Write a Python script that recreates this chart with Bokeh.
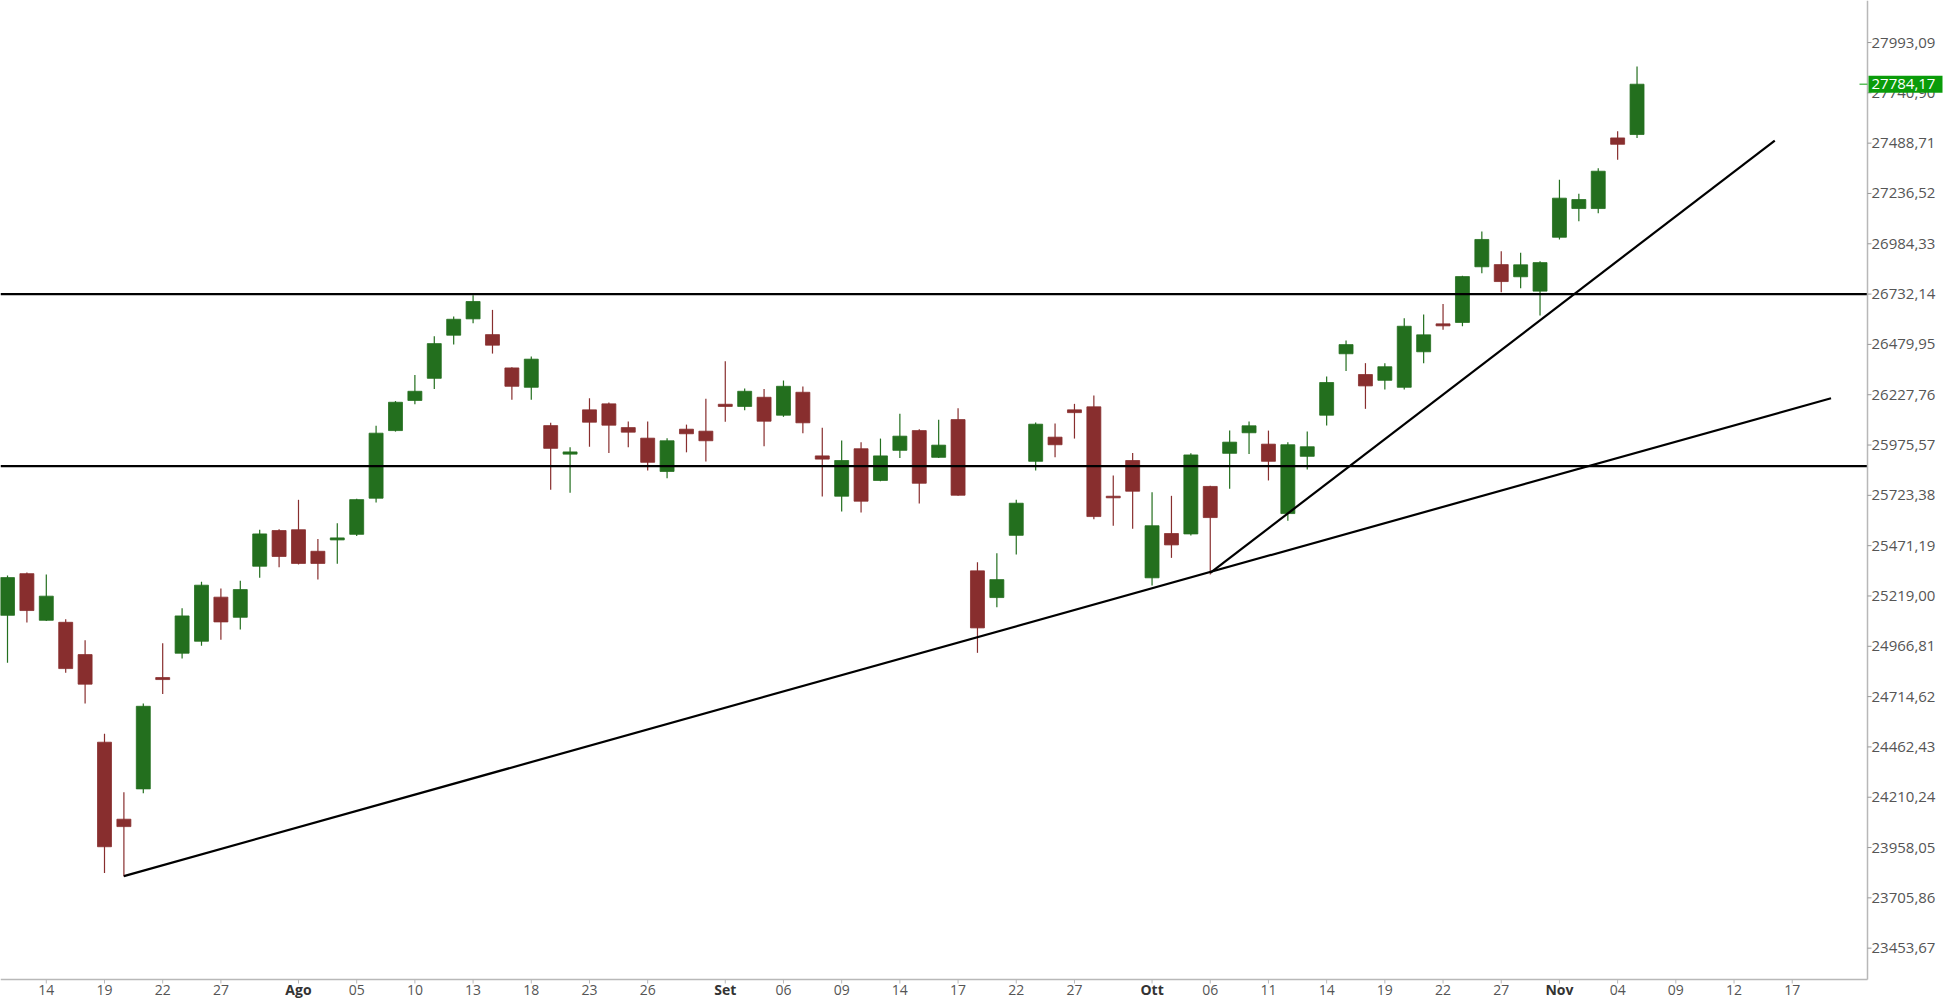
import pandas as pd
from bokeh.plotting import figure
from bokeh.models import ColumnDataSource, Range1d
from bokeh.core.properties import value
from bokeh.embed import file_html
from bokeh.resources import INLINE

# ---------------- data ----------------
first_day = "2021-07-12"
last_day = "2021-11-05"
calendar_end = "2021-11-30"

opens = [25122, 25331, 25097, 25087, 24925, 24486, 24100, 24252, 24810, 24932,
         24992, 25213, 25112, 25368, 25547, 25551, 25443, 25500, 25528, 25709,
         26048, 26199, 26310, 26526, 26608, 26529, 26362, 26265, 26073, 25930,
         26152, 26182, 26063, 26010, 25843, 26055, 26045, 26180, 26169, 26215,
         26125, 26240, 25921, 25719, 25957, 25798, 25949, 26048, 25914, 26103,
         25345, 25211, 25523, 25894, 26015, 26152, 26167, 25719, 25898, 25310,
         25532, 25530, 25768, 25934, 26037, 25980, 25632, 25919, 26125, 26433,
         26329, 26300, 26265, 26443, 26583, 26590, 26869, 26880, 26819, 26747,
         27017, 27161, 27161, 27515, 27532]
highs = [25321, 25337, 25326, 25102, 24997, 24528, 24235, 24680, 24982, 25158,
         25290, 25256, 25295, 25551, 25553, 25701, 25505, 25584, 25706, 26072,
         26196, 26327, 26521, 26620, 26726, 26653, 26366, 26419, 26087, 25965,
         26210, 26189, 26093, 26093, 26010, 26078, 26207, 26396, 26259, 26257,
         26299, 26269, 26062, 25998, 25990, 26008, 26132, 26055, 26102, 26160,
         25388, 25433, 25701, 26088, 26083, 26182, 26224, 25823, 25936, 25739,
         25721, 25934, 25771, 26048, 26093, 26048, 25990, 26043, 26319, 26500,
         26386, 26386, 26611, 26630, 26683, 26824, 27046, 26947, 26939, 26897,
         27305, 27235, 27363, 27548, 27873]
lows = [24884, 25086, 25093, 24834, 24680, 23831, 23813, 24230, 24728, 24905,
        24969, 24999, 25051, 25310, 25363, 25377, 25301, 25380, 25520, 25687,
        26043, 26180, 26257, 26479, 26586, 26434, 26202, 26202, 25751, 25736,
        25967, 25936, 25965, 25848, 25809, 25939, 25893, 26092, 26150, 25970,
        26117, 26035, 25717, 25642, 25637, 25794, 25911, 25682, 25911, 25721,
        24934, 25163, 25427, 25848, 25914, 26008, 25604, 25571, 25556, 25271,
        25410, 25522, 25326, 25756, 25931, 25798, 25596, 25853, 26073, 26347,
        26157, 26254, 26254, 26386, 26553, 26571, 26837, 26741, 26762, 26625,
        27006, 27097, 27137, 27405, 27515]
closes = [25311, 25146, 25218, 24855, 24777, 23962, 24063, 24666, 24800, 25119,
          25273, 25089, 25251, 25530, 25417, 25382, 25382, 25510, 25702, 26035,
          26190, 26245, 26484, 26606, 26695, 26476, 26270, 26406, 25959, 25941,
          26090, 26075, 26040, 25889, 25997, 26032, 25997, 26169, 26245, 26095,
          26270, 26087, 25905, 25898, 25694, 25921, 26020, 25784, 25975, 25724,
          25059, 25301, 25684, 26080, 25977, 26138, 25617, 25711, 25744, 25571,
          25475, 25926, 25612, 25990, 26072, 25894, 25977, 25967, 26289, 26479,
          26272, 26368, 26571, 26528, 26573, 26820, 27006, 26795, 26879, 26890,
          27213, 27206, 27348, 27483, 27784.17]

last_price = 27784.17
last_price_label = "27784,17"

y_ticks = [23453.67, 23705.86, 23958.05, 24210.24, 24462.43, 24714.62, 24966.81,
           25219.00, 25471.19, 25723.38, 25975.57, 26227.76, 26479.95, 26732.14,
           26984.33, 27236.52, 27488.71, 27740.90, 27993.09]

tick_dates = ["2021-07-14", "2021-07-19", "2021-07-22", "2021-07-27", "2021-08-02",
              "2021-08-05", "2021-08-10", "2021-08-13", "2021-08-18", "2021-08-23",
              "2021-08-26", "2021-09-01", "2021-09-06", "2021-09-09", "2021-09-14",
              "2021-09-17", "2021-09-22", "2021-09-27", "2021-10-01", "2021-10-06",
              "2021-10-11", "2021-10-14", "2021-10-19", "2021-10-22", "2021-10-27",
              "2021-11-01", "2021-11-04", "2021-11-09", "2021-11-12", "2021-11-17"]
tick_labels = ["14", "19", "22", "27", "Ago", "05", "10", "13", "18", "23", "26",
               "Set", "06", "09", "14", "17", "22", "27", "Ott", "06", "11", "14",
               "19", "22", "27", "Nov", "04", "09", "12", "17"]
month_labels = ["Ago", "Set", "Ott", "Nov"]

# horizontal levels
levels = [26732.14, 25870]
# trend lines: start date, start value, length in trading days, end value
trend_start_dates = ["2021-07-20", "2021-10-06"]
trend_start_values = [23815, 25335]
trend_end_offsets = [88.0, 29.1]
trend_end_values = [26210, 27502]

# ---------------- layout constants (pixels) ----------------
W, H = 1943, 1000
AXIS_PX = 1867            # x pixel of the price axis line
XAXIS_PX = 979            # y pixel (from top) of the time axis line

# ---------------- build ----------------
calendar = list(pd.bdate_range(first_day, calendar_end).strftime("%Y-%m-%d"))
pos = {d: i for i, d in enumerate(calendar)}
days = calendar[: pos[last_day] + 1]
xs = [pos[d] for d in days]

X0 = -0.361
X_AXIS = 95.88
upx = (X_AXIS - X0) / AXIS_PX          # data units per pixel, x
X1 = X0 + W * upx
Y1 = 28203.8
vpx = 5.0125                           # data units per pixel, y
Y0 = Y1 - H * vpx
Y_XAXIS = Y1 - XAXIS_PX * vpx

GREEN = "#236f1e"
RED = "#882e2e"
colors = [GREEN if c >= o else RED for o, c in zip(opens, closes)]
tops = [max(o, c) for o, c in zip(opens, closes)]
bots = [min(o, c) for o, c in zip(opens, closes)]
bots = [b if t - b > 8 else t - 8 for t, b in zip(tops, bots)]

src = ColumnDataSource(dict(x=xs, open=opens, high=highs, low=lows, close=closes,
                            top=tops, bottom=bots, color=colors))

p = figure(width=W, height=H, output_backend="svg", toolbar_location=None,
           x_range=Range1d(X0, X1), y_range=Range1d(Y0, Y1), min_border=0)
p.outline_line_color = None
p.xaxis.visible = False
p.yaxis.visible = False
p.xgrid.visible = False
p.ygrid.visible = False
p.background_fill_color = "white"
p.border_fill_color = "white"

# candles
p.segment(x0="x", y0="low", x1="x", y1="high", color="color", line_width=1.2, source=src)
p.vbar(x="x", width=0.72, top="top", bottom="bottom", fill_color="color",
       line_color="color", line_width=0.8, source=src)

# level lines
for lv in levels:
    p.segment(x0=[X0], y0=[lv], x1=[X_AXIS], y1=[lv], line_color="black", line_width=2.2)

# trend lines
for d, v0, off, v1 in zip(trend_start_dates, trend_start_values, trend_end_offsets, trend_end_values):
    x0 = pos[d]
    p.segment(x0=[x0], y0=[v0], x1=[x0 + off], y1=[v1], line_color="black", line_width=2.2)

AXIS_COLOR = "#b8b8b8"
FONT = value("Open Sans")

# ---- time axis (bottom) ----
tick_pos = [pos[d] for d in tick_dates]
p.segment(x0=[X0], y0=[Y_XAXIS], x1=[X_AXIS], y1=[Y_XAXIS], line_color=AXIS_COLOR, line_width=1.5)
p.segment(x0=tick_pos, y0=[Y_XAXIS] * len(tick_pos), x1=tick_pos,
          y1=[Y_XAXIS - 4 * vpx] * len(tick_pos), line_color=AXIS_COLOR, line_width=1)
num_x = [t for t, l in zip(tick_pos, tick_labels) if l not in month_labels]
num_t = [l for l in tick_labels if l not in month_labels]
mon_x = [t for t, l in zip(tick_pos, tick_labels) if l in month_labels]
mon_t = [l for l in tick_labels if l in month_labels]
lab_y = Y_XAXIS - 10 * vpx
p.text(x=num_x, y=[lab_y] * len(num_x), text=num_t, text_align="center",
       text_baseline="middle", text_font=FONT, text_font_size="14px", text_color="#555555")
p.text(x=mon_x, y=[lab_y] * len(mon_x), text=mon_t, text_align="center",
       text_baseline="middle", text_font=FONT, text_font_size="14px",
       text_font_style="bold", text_color="#333333")

# ---- price axis (right) ----
p.segment(x0=[X_AXIS], y0=[Y_XAXIS], x1=[X_AXIS], y1=[Y1], line_color=AXIS_COLOR, line_width=1.5)
p.segment(x0=[X_AXIS] * len(y_ticks), y0=y_ticks, x1=[X_AXIS + 4 * upx] * len(y_ticks),
          y1=y_ticks, line_color="#999999", line_width=1)
p.text(x=[X_AXIS + 4 * upx] * len(y_ticks), y=y_ticks,
       text=[f"{t:.2f}".replace(".", ",") for t in y_ticks],
       text_align="left", text_baseline="middle", text_font=FONT,
       text_font_size="15px", text_color="#555555")

# ---- last price marker ----
p.segment(x0=[X_AXIS - 8 * upx], y0=[last_price], x1=[X_AXIS], y1=[last_price],
          line_color="#5cc05c", line_width=1.5)
p.quad(left=[X_AXIS + 1 * upx], right=[X_AXIS + 75 * upx], bottom=[last_price - 8.5 * vpx],
       top=[last_price + 8.5 * vpx], fill_color="#0a9c0a", line_color=None)
p.text(x=[X_AXIS + 4 * upx], y=[last_price], text=[last_price_label],
       text_align="left", text_baseline="middle", text_font=FONT,
       text_font_size="15px", text_color="white")

open("out.html", "w").write(file_html(p, INLINE))
